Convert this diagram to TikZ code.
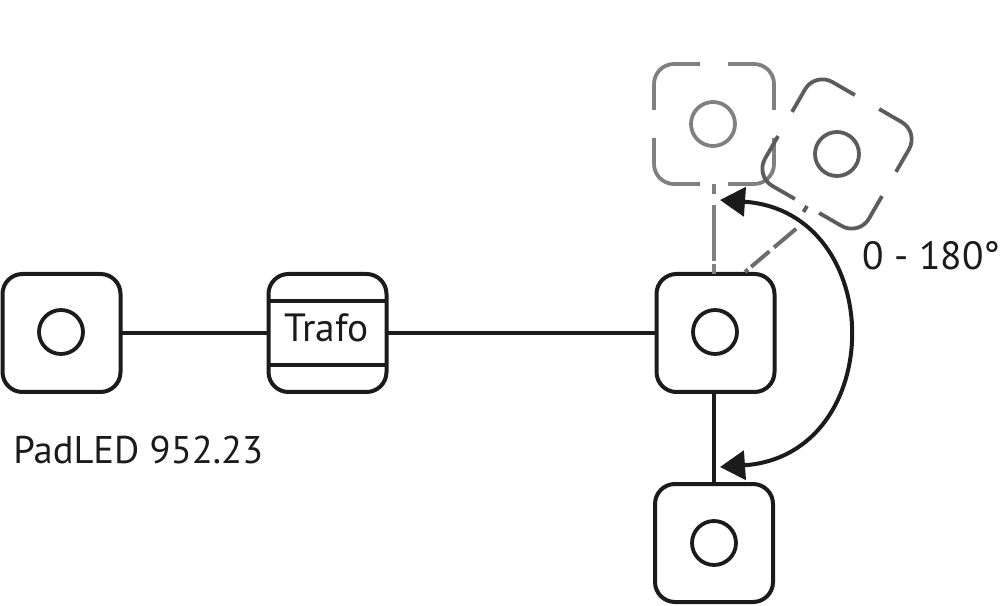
\documentclass[tikz,border=0pt]{standalone}
\usepackage{fontspec}
\setmainfont{PT Sans}
\usetikzlibrary{arrows.meta}
\definecolor{inkblack}{HTML}{1C1A1A}
\definecolor{ghostlight}{HTML}{808080}
\definecolor{ghostdark}{HTML}{5C5C5C}
\tikzset{
  padbox/.style={draw=inkblack, line width=2pt, rounded corners=10pt, minimum size=59pt, inner sep=0pt, outer sep=0pt},
  padring/.style={draw=#1, line width=1.9pt, circle, minimum size=22pt, inner sep=0pt},
  ghostbox/.style={minimum size=60pt, inner sep=0pt, outer sep=0pt},
  legend/.style={text=inkblack, font=\fontsize{19.7}{21}\selectfont, inner sep=0pt, anchor=base west},
  wire/.style={draw=inkblack, line width=2pt}
}
\begin{document}
\begin{tikzpicture}
  [x=0.5pt,y=0.5pt]
  \useasboundingbox (0,0) rectangle (1000,605);

  \node[padbox] (padA) at (61.5,272) {};
  \node[padbox] (trafo) at (327.5,272) {};
  \node[padbox] (padB) at (715.5,272) {};
  \node[padbox] (padC) at (714,62) {};
  \node[ghostbox] (ghostT) at (714,481) {};
  \node[ghostbox,rotate=-30] (ghostR) at (837,451) {};

  \node[padring=inkblack] (ringA) at (61,273) {};
  \node[padring=inkblack] (ringB) at (715,273) {};
  \node[padring=inkblack] (ringC) at (714,62) {};
  \node[padring=ghostlight] (ringT) at (713,481) {};
  \node[padring=ghostdark] (ringR) at (837,451) {};

  \node[legend] (trafoText) at (284,263) {Trafo};
  \node[legend,font=\fontsize{19.3}{21}\selectfont] (padText) at (13,141) {PadLED 952.23};
  \node[legend] (angleText) at (862,335) {0 - 180°};

  \draw[wire] ([yshift=16pt]trafo.west) -- ([yshift=16pt]trafo.east);
  \draw[wire] ([yshift=-16pt]trafo.west) -- ([yshift=-16pt]trafo.east);

  \draw[wire] (padA) -- (trafo);
  \draw[wire] (trafo) -- (padB);
  \draw[wire] (padC |- padB.south) -- (padC);

  \begin{scope}[shift={(ghostT)}]
    \foreach \turn in {0,90,180,270}
      \draw[ghostlight, line width=1.9pt, rounded corners=10pt, rotate=\turn] (14,60) -- (60,60) -- (60,14);
  \end{scope}
  \begin{scope}[shift={(ghostR)},rotate=-30]
    \foreach \turn in {0,90,180,270}
      \draw[ghostdark, line width=1.9pt, rounded corners=10pt, rotate=\turn] (14,60) -- (60,60) -- (60,14);
    \draw[ghostdark, line width=1.9pt] (0,-60) -- (0,-67);
  \end{scope}

  \draw[ghostlight, line width=2pt, dash pattern=on 5pt off 1.5pt on 28pt off 5.5pt on 5pt] (padC |- padB.north) -- (padC |- ghostT.south);
  \coordinate (swingfoot) at (745,333);
  \coordinate (swinghead) at (797,377);
  \draw[ghostlight!85!black, line width=2pt, dash pattern=on 2pt off 2pt on 12pt off 3pt on 14.5pt] (swingfoot) -- (swinghead);

  \coordinate (swingtop) at (720,405);
  \coordinate (swingbot) at (720,138);
  \draw[inkblack, line width=2pt, {Triangle[length=12.5pt,width=14.5pt]}-{Triangle[length=12.5pt,width=14.5pt]}] (swingtop) to[out=-4,in=4,looseness=1.62] (swingbot);
\end{tikzpicture}
\end{document}
